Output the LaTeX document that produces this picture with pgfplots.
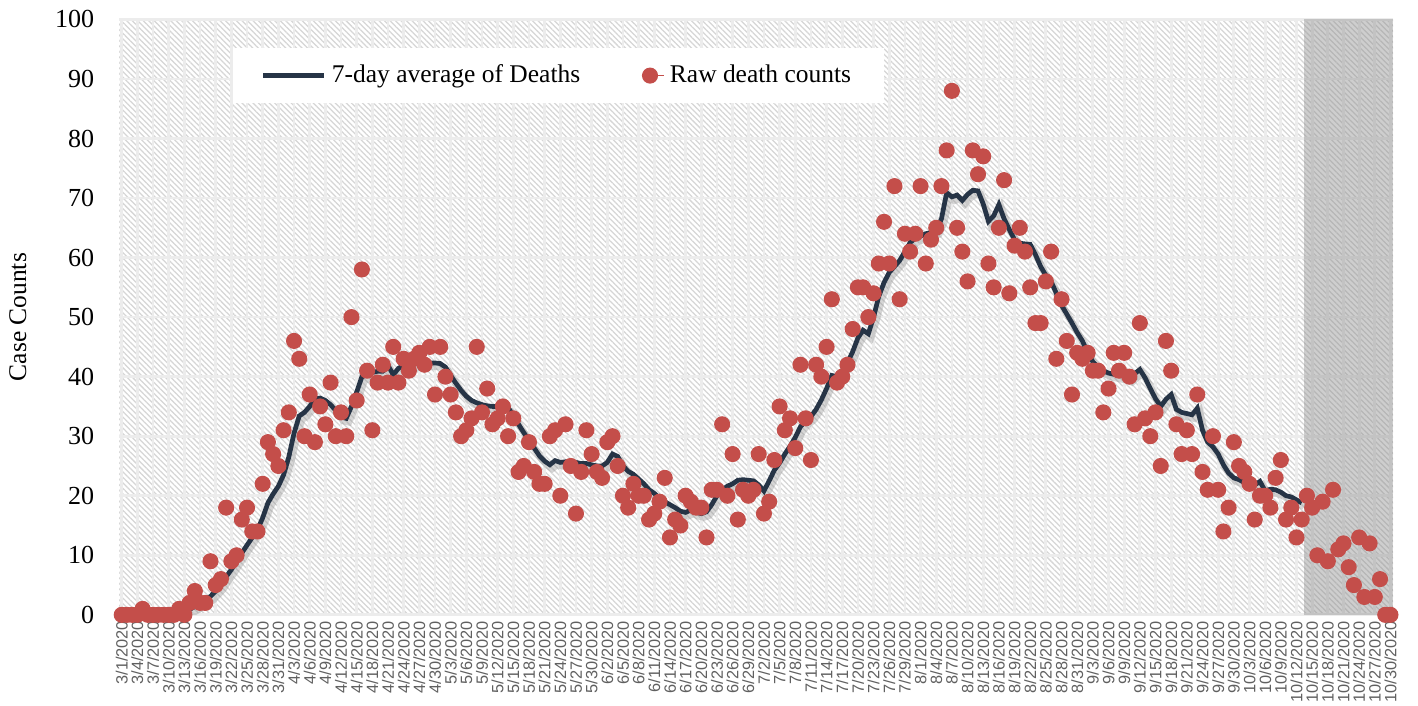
\documentclass[border=0pt]{standalone}
\usepackage{fontspec}
\setmainfont{Liberation Serif}
\newfontfamily\labelfont{Liberation Sans}
\usepackage{pgfplots}
\pgfplotsset{compat=1.18}
\usepackage{pgfplotstable}
\usetikzlibrary{patterns.meta}

\definecolor{avgline}{RGB}{38,52,70}
\definecolor{rawdot}{RGB}{196,78,74}
\definecolor{hatch}{RGB}{214,214,214}
\definecolor{gridc}{RGB}{236,236,236}
\definecolor{xlab}{RGB}{96,96,96}

% 7-day average (day index from 3/1/2020)
\pgfplotstableread{
d avg
6 0.1
7 0.1
8 0.1
9 0.1
10 0.3
11 0.3
12 0.4
13 0.9
14 1.4
15 2.0
16 2.6
17 3.1
18 4.0
19 5.0
20 6.4
21 7.6
22 9.0
23 10.4
24 11.7
25 13.0
26 14.3
27 16.3
28 18.8
29 20.3
30 21.6
31 23.5
32 26.5
33 30.5
34 33.4
35 34.0
36 35.0
37 36.3
38 36.4
39 36.0
40 35.3
41 34.3
42 33.2
43 33.0
44 35.0
45 37.4
46 40.0
47 40.3
48 40.7
49 40.9
50 40.9
51 41.9
52 40.3
53 41.4
54 41.9
55 42.0
56 42.1
57 42.3
58 42.4
59 42.3
60 42.3
61 42.2
62 41.6
63 40.2
64 38.9
65 37.7
66 36.7
67 36.0
68 35.6
69 35.3
70 35.1
71 35.0
72 35.0
73 35.0
74 34.8
75 33.5
76 32.0
77 30.6
78 29.3
79 28.0
80 26.7
81 25.8
82 25.2
83 25.9
84 25.6
85 25.7
86 25.8
87 25.6
88 25.4
89 25.4
90 25.2
91 25.0
92 25.0
93 25.6
94 27.0
95 26.6
96 25.0
97 24.1
98 23.6
99 22.8
100 22.0
101 21.0
102 20.4
103 19.6
104 19.0
105 18.5
106 18.0
107 17.4
108 17.2
109 17.6
110 17.2
111 17.0
112 17.3
113 18.5
114 20.0
115 21.0
116 21.6
117 22.0
118 22.6
119 22.7
120 22.6
121 22.5
122 21.8
123 20.8
124 22.5
125 24.3
126 25.5
127 27.0
128 28.3
129 29.8
130 31.6
131 32.6
132 33.3
133 34.5
134 36.1
135 38.0
136 40.2
137 40.0
138 41.0
139 42.3
140 44.2
141 46.5
142 47.8
143 47.2
144 50.0
145 53.5
146 55.8
147 57.5
148 58.5
149 59.5
150 61.0
151 62.5
152 63.3
153 63.6
154 64.0
155 64.2
156 64.5
157 66.5
158 70.9
159 70.2
160 70.5
161 69.6
162 70.6
163 71.3
164 71.2
165 69.0
166 66.1
167 67.0
168 68.9
169 66.5
170 64.7
171 63.0
172 62.4
173 62.3
174 62.2
175 60.5
176 58.5
177 57.0
178 56.0
179 54.0
180 52.0
181 50.5
182 49.0
183 47.4
184 46.0
185 44.0
186 42.5
187 41.6
188 41.0
189 40.6
190 40.4
191 40.2
192 40.1
193 39.7
194 40.5
195 41.2
196 39.8
197 38.0
198 36.3
199 35.0
200 36.2
201 37.0
202 34.5
203 34.0
204 33.8
205 33.6
206 34.7
207 31.0
208 29.0
209 28.2
210 27.0
211 25.2
212 23.8
213 23.0
214 22.7
215 22.2
216 22.0
217 21.8
218 22.4
219 20.8
220 21.1
221 21.0
222 20.6
223 20.0
224 19.8
225 19.3
226 18.8
}\avgtable

\begin{document}
\begin{tikzpicture}
\begin{axis}[
  scale only axis,
  width=460pt, height=215pt,
  xmin=-0.5, xmax=243.5,
  ymin=0, ymax=100,
  ytick={0,10,...,100},
  xtick={0,3,...,243},
  xticklabels={3/1/2020,3/4/2020,3/7/2020,3/10/2020,3/13/2020,3/16/2020,3/19/2020,3/22/2020,3/25/2020,3/28/2020,3/31/2020,4/3/2020,4/6/2020,4/9/2020,4/12/2020,4/15/2020,4/18/2020,4/21/2020,4/24/2020,4/27/2020,4/30/2020,5/3/2020,5/6/2020,5/9/2020,5/12/2020,5/15/2020,5/18/2020,5/21/2020,5/24/2020,5/27/2020,5/30/2020,6/2/2020,6/5/2020,6/8/2020,6/11/2020,6/14/2020,6/17/2020,6/20/2020,6/23/2020,6/26/2020,6/29/2020,7/2/2020,7/5/2020,7/8/2020,7/11/2020,7/14/2020,7/17/2020,7/20/2020,7/23/2020,7/26/2020,7/29/2020,8/1/2020,8/4/2020,8/7/2020,8/10/2020,8/13/2020,8/16/2020,8/19/2020,8/22/2020,8/25/2020,8/28/2020,8/31/2020,9/3/2020,9/6/2020,9/9/2020,9/12/2020,9/15/2020,9/18/2020,9/21/2020,9/24/2020,9/27/2020,9/30/2020,10/3/2020,10/6/2020,10/9/2020,10/12/2020,10/15/2020,10/18/2020,10/21/2020,10/24/2020,10/27/2020,10/30/2020},
  axis line style={draw=none},
  major tick length=0pt,
  xmajorgrids, ymajorgrids,
  grid style={gridc, line width=1pt},
  axis background/.style={fill=white, postaction={pattern={Lines[angle=-45,distance=1.4pt,line width=0.45pt]}, pattern color=hatch}},
  /pgf/number format/assume math mode=true,
  yticklabel style={font=\fontsize{9.4}{10}\selectfont, xshift=-5.5pt},
  xticklabel style={rotate=90, anchor=east, font=\labelfont\fontsize{5.9}{7}\selectfont, text=xlab, inner sep=1pt, xshift=-1pt},
  ylabel={Case Counts},
  ylabel style={font=\fontsize{9.2}{10}\selectfont},
  ylabel shift=3.5pt,
  legend style={at={(0.089,0.953)}, anchor=north west, draw=none, fill=white,
    legend columns=2, font=\fontsize{9.2}{10}\selectfont,
    inner xsep=10pt, inner ysep=4pt,
    /tikz/every even column/.append style={column sep=20pt}},
]
% shaded period at the end
\addplot[draw=none, fill={rgb,255:red,140;green,140;blue,140}, fill opacity=0.42, forget plot]
  coordinates {(226.5,100)(243.5,100)} \closedcycle;

% shadow under the average line
\addplot[black!45, opacity=0.35, line width=2.6pt, xshift=0.9pt, yshift=-1.3pt, forget plot]
  table[x=d, y=avg] {\avgtable};

\addplot[avgline, line width=1.7pt,
  legend image code/.code={\draw[avgline, line width=1.7pt] (0pt,0pt) -- (22pt,0pt);}]
  table[x=d, y=avg] {\avgtable};
\addlegendentry{7-day average of Deaths}

\addplot[only marks, mark=*, mark size=2.7pt, color=rawdot, mark options={draw=rawdot, fill=rawdot},
  legend image code/.code={\draw[rawdot, fill=rawdot] (0pt,0pt) circle[radius=2.7pt]; \path (-3pt,0pt) -- (5pt,0pt);}]
  coordinates {
(0,0)(1,0)(2,0)(3,0)(4,1)(5,0)(6,0)(7,0)(8,0)(9,0)(10,0)(11,1)(12,0)(13,2)(14,4)(15,2)(16,2)(17,9)(18,5)(19,6)
(20,18)(21,9)(22,10)(23,16)(24,18)(25,14)(26,14)(27,22)(28,29)(29,27)(30,25)(31,31)(32,34)(33,46)(34,43)(35,30)(36,37)(37,29)(38,35)(39,32)
(40,39)(41,30)(42,34)(43,30)(44,50)(45,36)(46,58)(47,41)(48,31)(49,39)(50,42)(51,39)(52,45)(53,39)(54,43)(55,41)(56,43)(57,44)(58,42)(59,45)
(60,37)(61,45)(62,40)(63,37)(64,34)(65,30)(66,31)(67,33)(68,45)(69,34)(70,38)(71,32)(72,33)(73,35)(74,30)(75,33)(76,24)(77,25)(78,29)(79,24)
(80,22)(81,22)(82,30)(83,31)(84,20)(85,32)(86,25)(87,17)(88,24)(89,31)(90,27)(91,24)(92,23)(93,29)(94,30)(95,25)(96,20)(97,18)(98,22)(99,20)
(100,20)(101,16)(102,17)(103,19)(104,23)(105,13)(106,16)(107,15)(108,20)(109,19)(110,18)(111,18)(112,13)(113,21)(114,21)(115,32)(116,20)(117,27)(118,16)(119,21)
(120,20)(121,21)(122,27)(123,17)(124,19)(125,26)(126,35)(127,31)(128,33)(129,28)(130,42)(131,33)(132,26)(133,42)(134,40)(135,45)(136,53)(137,39)(138,40)(139,42)
(140,48)(141,55)(142,55)(143,50)(144,54)(145,59)(146,66)(147,59)(148,72)(149,53)(150,64)(151,61)(152,64)(153,72)(154,59)(155,63)(156,65)(157,72)(158,78)(159,88)
(160,65)(161,61)(162,56)(163,78)(164,74)(165,77)(166,59)(167,55)(168,65)(169,73)(170,54)(171,62)(172,65)(173,61)(174,55)(175,49)(176,49)(177,56)(178,61)(179,43)
(180,53)(181,46)(182,37)(183,44)(184,43)(185,44)(186,41)(187,41)(188,34)(189,38)(190,44)(191,41)(192,44)(193,40)(194,32)(195,49)(196,33)(197,30)(198,34)(199,25)
(200,46)(201,41)(202,32)(203,27)(204,31)(205,27)(206,37)(207,24)(208,21)(209,30)(210,21)(211,14)(212,18)(213,29)(214,25)(215,24)(216,22)(217,16)(218,20)(219,20)
(220,18)(221,23)(222,26)(223,16)(224,18)(225,13)(226,16)(227,20)(228,18)(229,10)(230,19)(231,9)(232,21)(233,11)(234,12)(235,8)(236,5)(237,13)(238,3)(239,12)
(240,3)(241,6)(242,0)(243,0)
};
\addlegendentry{Raw death counts}
\end{axis}
\path (current axis.north east) -- +(9pt,7pt);
\end{tikzpicture}
\end{document}
